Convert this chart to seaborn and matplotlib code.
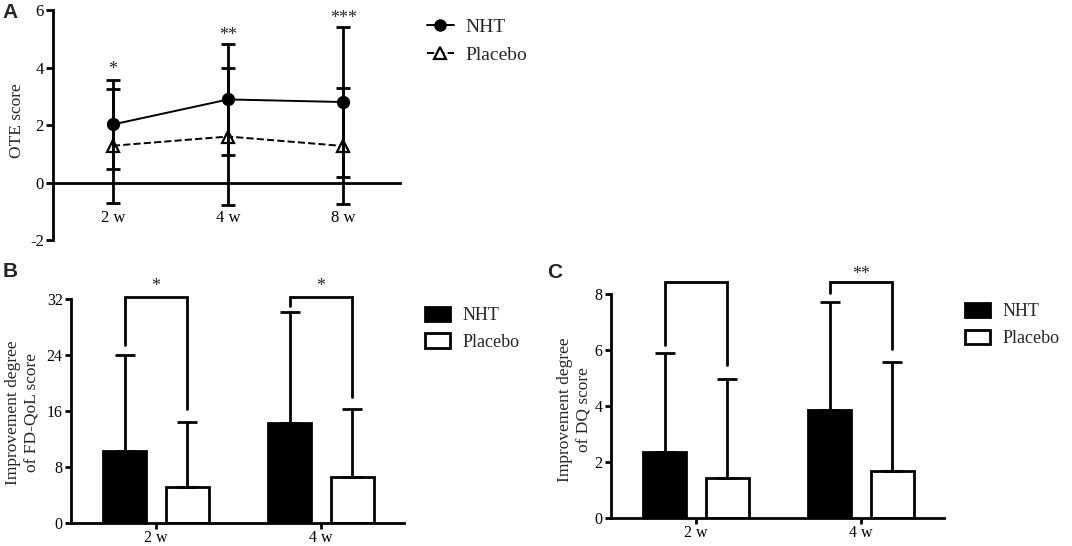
import numpy as np
import pandas as pd
import matplotlib
matplotlib.use('Agg')
import matplotlib.pyplot as plt
from matplotlib.lines import Line2D
from matplotlib.patches import Patch
import seaborn as sns

# Panel A - OTE score over time (mean and SD)
weeks_a = ['2 w', '4 w', '8 w']
ote_nht = [2.02, 2.89, 2.80]
ote_nht_sd = [1.55, 1.92, 2.62]
ote_placebo = [1.28, 1.60, 1.27]
ote_placebo_sd = [1.98, 2.38, 2.02]
ote_stars = ['*', '**', '***']
ote_star_y = [3.93, 5.1, 5.7]

# Panel B - improvement of FD-QoL score
weeks_b = ['2 w', '4 w']
qol_nht = [10.27, 14.23]
qol_nht_sd = [13.75, 15.9]
qol_placebo = [5.16, 6.49]
qol_placebo_sd = [9.21, 9.75]
qol_bracket_top = [32.4, 32.4]
qol_bracket_left = [25.45, 31.05]
qol_bracket_right = [16.25, 18.05]
qol_stars = ['*', '*']
qol_star_y = [33.9, 33.9]

# Panel C - improvement of DQ score
dq_nht = [2.36, 3.86]
dq_nht_sd = [3.55, 3.88]
dq_placebo = [1.41, 1.67]
dq_placebo_sd = [3.55, 3.92]
dq_bracket_top = [8.45, 8.45]
dq_bracket_left = [6.19, 8.06]
dq_bracket_right = [5.47, 6.03]
dq_stars = ['', '**']
dq_star_y = [8.72, 8.72]

groups = ['NHT', 'Placebo']

sns.set_style('ticks')
plt.rcParams['font.family'] = ['Liberation Serif', 'DejaVu Serif']
plt.rcParams['axes.linewidth'] = 2
plt.rcParams['axes.edgecolor'] = 'black'
plt.rcParams['axes.unicode_minus'] = False
plt.rcParams['xtick.color'] = 'black'
plt.rcParams['ytick.color'] = 'black'

fig = plt.figure(figsize=(10.72, 5.46), dpi=100)

# ---------------- Panel A ----------------
ax_a = fig.add_axes([0.0494, 0.5604, 0.3237, 0.4212])
df_a = pd.DataFrame({
    'week': weeks_a * 2,
    'score': ote_nht + ote_placebo,
    'group': ['NHT'] * len(weeks_a) + ['Placebo'] * len(weeks_a),
})
sns.pointplot(data=df_a, x='week', y='score', hue='group', hue_order=groups,
              palette={'NHT': 'black', 'Placebo': 'black'}, markers=['o', '^'],
              linestyles=['-', '--'], errorbar=None, legend=False, ax=ax_a,
              markersize=8.5, linewidth=1.4)
for line in ax_a.lines:
    if line.get_marker() == '^':
        line.set_markerfacecolor('white')
        line.set_markeredgewidth(1.6)

x_a = ax_a.lines[0].get_xdata()
for means, sds in [(ote_nht, ote_nht_sd), (ote_placebo, ote_placebo_sd)]:
    ax_a.errorbar(x_a, means, yerr=sds, fmt='none', ecolor='black',
                  elinewidth=2, capsize=4.7, capthick=2, zorder=4)
for xi, s, sy in zip(x_a, ote_stars, ote_star_y):
    ax_a.text(xi, sy, s, ha='center', va='center', fontsize=13, clip_on=False)

ax_a.set_xlim(-0.52, 2.49)
ax_a.set_ylim(-2, 6)
ax_a.set_yticks([-2, 0, 2, 4, 6])
ax_a.spines['top'].set_visible(False)
ax_a.spines['right'].set_visible(False)
ax_a.spines['bottom'].set_position(('data', 0))
ax_a.tick_params(axis='x', length=0, pad=20, labelsize=12)
ax_a.tick_params(axis='y', length=5, width=2, pad=1.5, labelsize=12)
ax_a.set_xlabel('')
ax_a.set_ylabel('OTE score', fontsize=12.5)
ax_a.yaxis.set_label_coords(-0.081, 0.517)

leg_a = [Line2D([0], [0], color='black', marker='o', lw=1.4, ms=8),
         Line2D([0], [0], color='black', marker='^', lw=1.4, ls='--', ms=8,
                mfc='white', mew=1.6)]
ax_a.legend(leg_a, groups, loc='upper left', bbox_to_anchor=(0.398, 0.966),
            bbox_transform=fig.transFigure, frameon=False, fontsize=14,
            handlelength=1.4, handletextpad=0.6, labelspacing=0.5,
            borderpad=0, borderaxespad=0)


def bar_panel(ax, nht, nht_sd, placebo, placebo_sd, top, left_end, right_end,
              stars, star_y, ylim, yticks, ylabel, label_x, label_y, leg_anchor):
    df = pd.DataFrame({
        'week': weeks_b * 2,
        'value': nht + placebo,
        'group': ['NHT'] * len(weeks_b) + ['Placebo'] * len(weeks_b),
    })
    sns.barplot(data=df, x='week', y='value', hue='group', hue_order=groups,
                palette={'NHT': 'black', 'Placebo': 'white'}, saturation=1,
                edgecolor='black', linewidth=2, width=0.76, gap=0.32,
                errorbar=None, legend=False, ax=ax)
    bars = ax.patches
    n = len(weeks_b)
    x_nht = [p.get_x() + p.get_width() / 2 for p in bars[:n]]
    x_pl = [p.get_x() + p.get_width() / 2 for p in bars[n:2 * n]]
    for xs, means, sds in [(x_nht, nht, nht_sd), (x_pl, placebo, placebo_sd)]:
        ax.errorbar(xs, means, yerr=[np.zeros(len(sds)), sds], fmt='none',
                    ecolor='black', elinewidth=2, capsize=7.2, capthick=2, zorder=3)
    # significance brackets
    for i in range(n):
        ax.plot([x_nht[i], x_nht[i], x_pl[i], x_pl[i]],
                [left_end[i], top[i], top[i], right_end[i]],
                color='black', lw=2, clip_on=False, solid_joinstyle='miter')
        if stars[i]:
            ax.text((x_nht[i] + x_pl[i]) / 2, star_y[i], stars[i], ha='center',
                    va='center', fontsize=13, clip_on=False)
    ax.set_xlim(-0.515, 1.503)
    ax.set_ylim(*ylim)
    ax.set_yticks(yticks)
    sns.despine(ax=ax)
    ax.tick_params(axis='x', length=4.5, width=2, pad=1, labelsize=11.5)
    ax.tick_params(axis='y', length=4.5, width=2, pad=1.5, labelsize=11.5)
    ax.set_xlabel('')
    ax.set_ylabel(ylabel, fontsize=12.5, linespacing=1.25)
    ax.yaxis.set_label_coords(label_x, label_y)
    handles = [Patch(facecolor='black', edgecolor='black', lw=2),
               Patch(facecolor='white', edgecolor='black', lw=2)]
    ax.legend(handles, groups, loc='upper left', bbox_to_anchor=leg_anchor,
              bbox_transform=fig.transFigure, frameon=False, fontsize=13,
              handlelength=1.4, handleheight=0.85, handletextpad=0.7,
              labelspacing=0.5, borderpad=0, borderaxespad=0)


# ---------------- Panel B ----------------
ax_b = fig.add_axes([0.0662, 0.0430, 0.3106, 0.4088])
bar_panel(ax_b, qol_nht, qol_nht_sd, qol_placebo, qol_placebo_sd,
          qol_bracket_top, qol_bracket_left, qol_bracket_right, qol_stars, qol_star_y,
          (0, 32), [0, 8, 16, 24, 32], 'Improvement degree\nof FD-QoL score',
          -0.093, 0.491, (0.396, 0.438))

# ---------------- Panel C ----------------
ax_c = fig.add_axes([0.570, 0.0518, 0.3106, 0.4092])
bar_panel(ax_c, dq_nht, dq_nht_sd, dq_placebo, dq_placebo_sd,
          dq_bracket_top, dq_bracket_left, dq_bracket_right, dq_stars, dq_star_y,
          (0, 8), [0, 2, 4, 6, 8], 'Improvement degree\nof DQ score',
          -0.057, 0.482, (0.900, 0.445))

# panel letters
for txt, x, y in [('A', 0.002, 0.967), ('B', 0.002, 0.4927), ('C', 0.510, 0.4908)]:
    fig.text(x, y, txt, fontsize=15, fontweight='bold', family='Liberation Sans',
             ha='left', va='baseline')

fig.savefig('out.png', dpi=100)
